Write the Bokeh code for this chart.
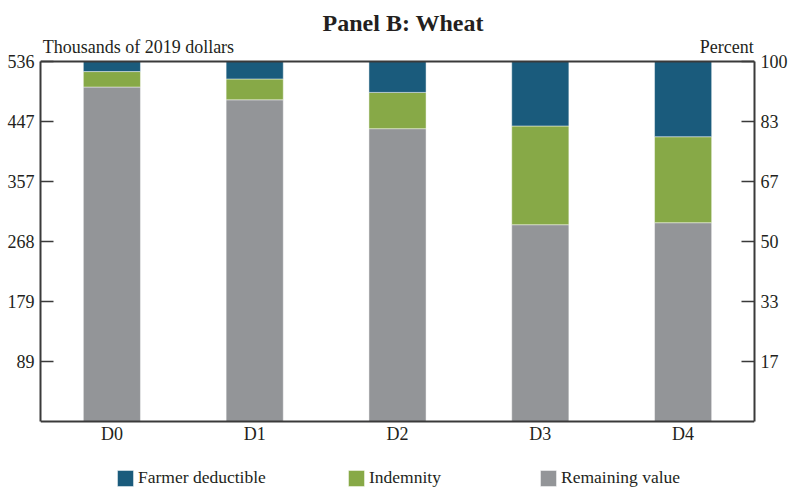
from bokeh.plotting import figure
from bokeh.models import (ColumnDataSource, FixedTicker, Legend, LegendItem, Label,
                          LinearAxis, FactorRange, Range1d, Span)
from bokeh.embed import file_html
from bokeh.resources import INLINE

# ---- data ----
categories = ["D0", "D1", "D2", "D3", "D4"]
remaining = [498, 479, 436, 293, 296]
indemnity = [23, 31, 54, 147, 128]
deductible = [15, 26, 46, 96, 112]
left_ticks = [89, 179, 268, 357, 447, 536]
right_tick_labels = ["17", "33", "50", "67", "83", "100"]
series_labels = ["Farmer deductible", "Indemnity", "Remaining value"]
y_max = 536

FONT = "Liberation Serif"
TXT = "#231f20"
AX = "#3a3a3a"
BLUE = "#1a5b7c"
GREEN = "#87a947"
GRAY = "#939598"

# layout: frame covers the whole canvas height; value 0 at px 421, y_max at px 61
W, H = 794, 493
ZERO_PX = 421
TOP_PX = 61
per_px = y_max / (ZERO_PX - TOP_PX)
y_top = ZERO_PX * per_px
y_bottom = -(H - ZERO_PX) * per_px

src = ColumnDataSource(dict(cat=categories, remaining=remaining,
                            indemnity=indemnity, deductible=deductible))

p = figure(width=W, height=H, x_range=FactorRange(*categories),
           y_range=Range1d(y_bottom, y_top), output_backend="svg", toolbar_location=None,
           min_border_left=40, min_border_right=40, min_border_top=0,
           min_border_bottom=0)
p.background_fill_color = "white"
p.border_fill_color = "white"
p.xgrid.grid_line_color = None
p.ygrid.grid_line_color = None
p.outline_line_color = None

rs = p.vbar_stack(["remaining", "indemnity", "deductible"], x="cat", width=0.4,
                  source=src, fill_color=[GRAY, GREEN, BLUE],
                  line_color="white", line_alpha=0.45, line_width=1)

def style_axis(ax):
    ax.axis_line_color = AX
    ax.axis_line_width = 2
    ax.major_tick_in = 13
    ax.major_tick_out = 0
    ax.major_tick_line_color = AX
    ax.major_tick_line_width = 1.5
    ax.minor_tick_line_color = None
    ax.major_label_text_font = FONT
    ax.major_label_text_font_size = "18px"
    ax.major_label_text_color = TXT
    ax.major_label_standoff = 6

yax = p.yaxis[0]
yax.ticker = FixedTicker(ticks=left_ticks)
yax.bounds = (0, y_max)
style_axis(yax)

rax = LinearAxis(ticker=FixedTicker(ticks=left_ticks), bounds=(0, y_max),
                 major_label_overrides={t: l for t, l in zip(left_ticks, right_tick_labels)})
style_axis(rax)
p.add_layout(rax, "right")

xax = p.xaxis[0]
style_axis(xax)
xax.major_tick_line_color = None
xax.major_tick_in = 0
xax.major_label_standoff = 2
xax.fixed_location = 0

# top border of the chart box
p.add_layout(Span(location=y_max, dimension="width", line_color=AX, line_width=2))

# one legend per item so each sits where the reference places it
legend_x = [75, 306, 498]
for lab, rend, lx in zip(series_labels, [rs[2], rs[1], rs[0]], legend_x):
    lg = Legend(items=[LegendItem(label=lab, renderers=[rend])],
                orientation="horizontal", location=(lx, 5),
                glyph_width=20, glyph_height=20, label_standoff=3,
                label_height=12, padding=0, margin=0,
                border_line_color=None, background_fill_alpha=0, label_text_font=FONT,
                label_text_font_size="17.5px", label_text_color=TXT)
    p.add_layout(lg)

p.add_layout(Label(x=2.54, y=(ZERO_PX - 22) * per_px, text="Panel B: Wheat",
                   text_align="center", text_baseline="alphabetic", text_font=FONT,
                   text_font_size="24px", text_font_style="bold", text_color=TXT))
p.add_layout(Label(x=0.015, y=(ZERO_PX - 46) * per_px, text="Thousands of 2019 dollars",
                   text_align="left", text_baseline="alphabetic", text_font=FONT,
                   text_font_size="18px", text_color=TXT))
p.add_layout(Label(x=4.995, y=(ZERO_PX - 46) * per_px, text="Percent",
                   text_align="right", text_baseline="alphabetic", text_font=FONT,
                   text_font_size="18px", text_color=TXT))

open("out.html", "w").write(file_html(p, INLINE))
